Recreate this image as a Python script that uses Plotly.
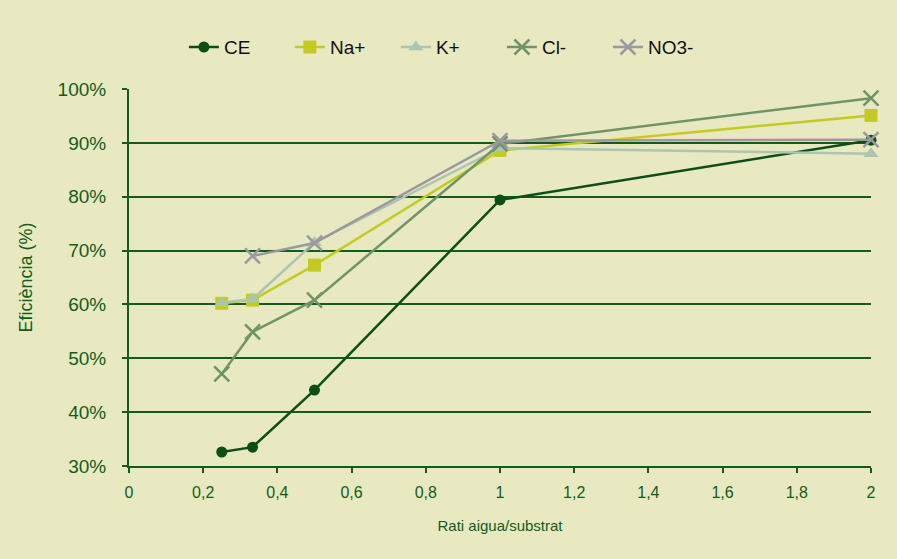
import plotly.graph_objects as go

ratio = [0.25, 0.333, 0.5, 1, 2]
ratio_no3 = [0.333, 0.5, 1, 2]
ce = [32.6, 33.5, 44.1, 79.4, 90.5]
na = [60.2, 60.8, 67.3, 88.6, 95.1]
k = [60.3, 61.0, 71.5, 89.0, 88.0]
cl = [47.1, 54.9, 60.8, 89.8, 98.3]
no3 = [69.0, 71.4, 90.4, 90.6]

x_ticks = [0, 0.2, 0.4, 0.6, 0.8, 1, 1.2, 1.4, 1.6, 1.8, 2]
x_labels = ["0", "0,2", "0,4", "0,6", "0,8", "1", "1,2", "1,4", "1,6", "1,8", "2"]
y_ticks = [30, 40, 50, 60, 70, 80, 90, 100]
y_labels = ["30%", "40%", "50%", "60%", "70%", "80%", "90%", "100%"]

green = "#135c1c"
bg = "#e8e9c0"

fig = go.Figure()
fig.add_trace(go.Scatter(x=ratio, y=ce, name="CE", mode="lines+markers", cliponaxis=False,
                         line=dict(color="#0b4f17", width=2.5),
                         marker=dict(symbol="circle", size=11, color="#0b4f17")))
fig.add_trace(go.Scatter(x=ratio, y=na, name="Na+", mode="lines+markers", cliponaxis=False,
                         line=dict(color="#c3cb22", width=2.5),
                         marker=dict(symbol="square", size=13, color="#c3cb22")))
fig.add_trace(go.Scatter(x=ratio, y=k, name="K+", mode="lines+markers", cliponaxis=False,
                         line=dict(color="#abc5b0", width=2.5),
                         marker=dict(symbol="triangle-up", size=13, color="#abc5b0")))
fig.add_trace(go.Scatter(x=ratio, y=cl, name="Cl-", mode="lines+markers", cliponaxis=False,
                         line=dict(color="#6f9468", width=2.5),
                         marker=dict(symbol="x-thin", size=15, color="#6f9468",
                                     line=dict(width=2.5, color="#6f9468"))))
fig.add_trace(go.Scatter(x=ratio_no3, y=no3, name="NO3-", mode="lines+markers", cliponaxis=False,
                         line=dict(color="#9a98a0", width=2.5),
                         marker=dict(symbol="x-thin", size=15, color="#9a98a0",
                                     line=dict(width=2.5, color="#9a98a0"))))

fig.update_layout(
    width=897, height=559,
    paper_bgcolor=bg, plot_bgcolor=bg,
    margin=dict(l=129, r=26, t=89, b=93),
    font=dict(family="Liberation Sans, Arial, sans-serif", color=green),
    legend=dict(orientation="h", x=0.074, xanchor="left", y=1.111, yanchor="middle",
                font=dict(size=19, color="#111111", family="Liberation Sans, Arial"),
                bgcolor="rgba(0,0,0,0)", entrywidth=61, entrywidthmode="pixels"),
    showlegend=True,
)
fig.update_xaxes(range=[0, 2], tickvals=x_ticks, ticktext=x_labels,
                 showgrid=False, zeroline=False, showline=True, linecolor=green, linewidth=2,
                 ticks="outside", tickcolor=green, ticklen=5, tickwidth=1.5,
                 ticklabelstandoff=6,
                 tickfont=dict(size=16, family="Liberation Sans Narrow, Liberation Sans", color=green),
                 title=dict(text="Rati aigua/substrat", standoff=20,
                            font=dict(size=15, family="Liberation Sans Narrow, Liberation Sans", color=green)))
fig.update_yaxes(range=[30, 100], tickvals=y_ticks, ticktext=y_labels,
                 showgrid=True, gridcolor=green, gridwidth=1.5, zeroline=False,
                 showline=True, linecolor=green, linewidth=2,
                 ticks="outside", tickcolor=green, ticklen=5, tickwidth=1.5,
                 ticklabelstandoff=12,
                 tickfont=dict(size=19, color=green),
                 title=dict(text="Eficiència (%)", standoff=20, font=dict(size=18, color=green)))

fig.write_html("out.html", config={"displayModeBar": False},
               post_script="document.body.style.margin='0';document.body.style.overflow='hidden';")
